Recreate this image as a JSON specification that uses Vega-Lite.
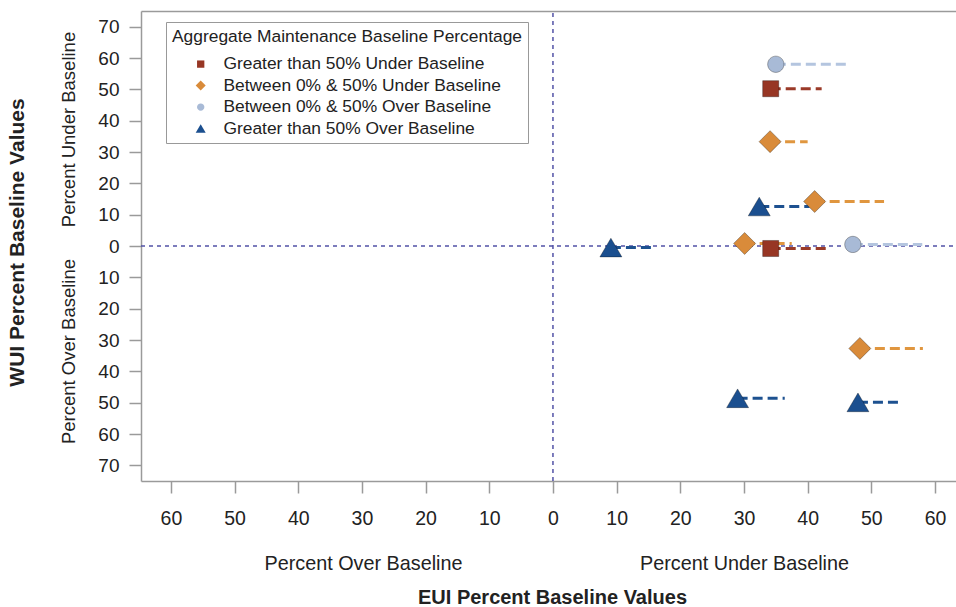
{
  "$schema": "https://vega.github.io/schema/vega-lite/v6.json",
  "width": 815,
  "height": 470,
  "autosize": {"type": "none"},
  "padding": {"left": 141, "top": 11, "right": 0, "bottom": 126},
  "background": "white",
  "config": {
    "view": {"stroke": null},
    "font": "Liberation Sans",
    "axis": {"grid": false, "domainColor": "#9a9a9a", "tickColor": "#9a9a9a", "labelColor": "#222", "titleColor": "#222", "labelFont": "Liberation Sans", "titleFont": "Liberation Sans", "domainWidth": 1.5, "tickWidth": 1.5}
  },
  "datasets": {
    "pts": [
      {"category": "Between 0% & 50% Over Baseline", "eui": 35.0, "wui": 58.0, "eui_end": 46.0},
      {"category": "Greater than 50% Under Baseline", "eui": 34.2, "wui": 50.2, "eui_end": 42.2},
      {"category": "Between 0% & 50% Under Baseline", "eui": 34.1, "wui": 33.3, "eui_end": 40.0},
      {"category": "Greater than 50% Over Baseline", "eui": 32.4, "wui": 12.6, "eui_end": 40.3},
      {"category": "Between 0% & 50% Under Baseline", "eui": 41.1, "wui": 14.2, "eui_end": 52.0},
      {"category": "Greater than 50% Over Baseline", "eui": 9.1, "wui": -0.5, "eui_end": 15.7},
      {"category": "Between 0% & 50% Under Baseline", "eui": 30.1, "wui": 0.8, "eui_end": 37.5},
      {"category": "Greater than 50% Under Baseline", "eui": 34.2, "wui": -0.8, "eui_end": 43.6},
      {"category": "Between 0% & 50% Over Baseline", "eui": 47.1, "wui": 0.5, "eui_end": 58.0},
      {"category": "Between 0% & 50% Under Baseline", "eui": 48.2, "wui": -32.7, "eui_end": 58.1},
      {"category": "Greater than 50% Over Baseline", "eui": 29.0, "wui": -48.6, "eui_end": 36.4},
      {"category": "Greater than 50% Over Baseline", "eui": 47.9, "wui": -49.9, "eui_end": 54.8}
    ]
  },
  "resolve": {"axis": {"x": "independent", "y": "independent"}},
  "layer": [
    {
      "data": {"values": [{"x": 0, "y": -75, "y2": 75}]},
      "mark": {"type": "rule", "color": "#5252a6", "strokeDash": [4, 4], "strokeWidth": 1.5},
      "encoding": {
        "x": {"field": "x", "type": "quantitative", "scale": {"domain": [-64.7, 63.3], "nice": false, "zero": false},
          "axis": {"orient": "bottom", "values": [-60, -50, -40, -30, -20, -10, 0, 10, 20, 30, 40, 50, 60], "labelExpr": "format(abs(datum.value), 'd')", "tickSize": 12, "labelPadding": 16, "labelFontSize": 19.5, "labelFlush": false, "labelOverlap": false,
            "title": "Percent Over Baseline", "titleFontSize": 19.8, "titleFontWeight": "normal", "titleX": 222, "titleY": 82, "titleAlign": "center", "titleBaseline": "middle"}},
        "y": {"field": "y", "type": "quantitative", "scale": {"domain": [-75, 75], "nice": false, "zero": false},
          "axis": {"orient": "left", "labels": false, "ticks": false, "domain": false, "title": "Percent Under Baseline", "titleFontSize": 18.5, "titleFontWeight": "normal", "titleX": -73, "titleY": 118, "titleAngle": 270, "titleAlign": "center", "titleBaseline": "middle"}},
        "y2": {"field": "y2"}
      }
    },
    {
      "data": {"values": [{"y": 0, "x": -64.7, "x2": 63.3}]},
      "mark": {"type": "rule", "color": "#5252a6", "strokeDash": [4, 4], "strokeWidth": 1.5},
      "encoding": {
        "y": {"field": "y", "type": "quantitative", "scale": {"domain": [-75, 75], "nice": false, "zero": false},
          "axis": {"orient": "left", "values": [-70, -60, -50, -40, -30, -20, -10, 0, 10, 20, 30, 40, 50, 60, 70], "labelExpr": "format(abs(datum.value), 'd')", "tickSize": 12, "labelPadding": 10, "labelFontSize": 19, "labelFlush": false, "labelOverlap": false,
            "title": "Percent Over Baseline", "titleFontSize": 18.5, "titleFontWeight": "normal", "titleX": -73, "titleY": 340, "titleAngle": 270, "titleAlign": "center", "titleBaseline": "middle"}},
        "x": {"field": "x", "type": "quantitative", "scale": {"domain": [-64.7, 63.3], "nice": false, "zero": false},
          "axis": {"orient": "bottom", "labels": false, "ticks": false, "domain": false, "title": "Percent Under Baseline", "titleFontSize": 19.8, "titleFontWeight": "normal", "titleX": 603, "titleY": 82, "titleAlign": "center", "titleBaseline": "middle"}},
        "x2": {"field": "x2"}
      }
    },
    {
      "data": {"name": "pts"},
      "mark": {"type": "rule", "strokeDash": [10, 5], "strokeWidth": 3},
      "encoding": {
        "x": {"field": "eui", "type": "quantitative", "scale": {"domain": [-64.7, 63.3], "nice": false, "zero": false},
          "axis": {"orient": "bottom", "labels": false, "ticks": false, "domain": false, "title": "EUI Percent Baseline Values", "titleFontSize": 20, "titleFontWeight": "bold", "titleX": 411, "titleY": 116, "titleAlign": "center", "titleBaseline": "middle"}},
        "x2": {"field": "eui_end"},
        "y": {"field": "wui", "type": "quantitative", "scale": {"domain": [-75, 75], "nice": false, "zero": false},
          "axis": {"orient": "left", "labels": false, "ticks": false, "domain": false, "title": "WUI Percent Baseline Values", "titleFontSize": 21, "titleFontWeight": "bold", "titleX": -124, "titleY": 231, "titleAngle": 270, "titleAlign": "center", "titleBaseline": "middle"}},
        "color": {"field": "category", "type": "nominal", "legend": null,
          "scale": {"domain": ["Greater than 50% Over Baseline", "Between 0% & 50% Over Baseline", "Between 0% & 50% Under Baseline", "Greater than 50% Under Baseline"], "range": ["#1d5190", "#b4c5df", "#e0963f", "#9a3a28"]}}
      }
    },
    {
      "data": {"name": "pts"},
      "mark": {"type": "point", "filled": true, "opacity": 1, "size": 484, "stroke": "#000", "strokeOpacity": 0.3, "strokeWidth": 1},
      "encoding": {
        "x": {"field": "eui", "type": "quantitative", "scale": {"domain": [-64.7, 63.3], "nice": false, "zero": false},
          "axis": {"orient": "top", "labels": false, "ticks": false, "domain": true, "title": null}},
        "y": {"field": "wui", "type": "quantitative", "scale": {"domain": [-75, 75], "nice": false, "zero": false}, "axis": null},
        "fill": {"field": "category", "type": "nominal",
          "scale": {"domain": ["Greater than 50% Under Baseline", "Between 0% & 50% Under Baseline", "Between 0% & 50% Over Baseline", "Greater than 50% Over Baseline"], "range": ["#973624", "#d98b3a", "#a8bad6", "#1b4f8f"]},
          "legend": {"orient": "none", "legendX": 25, "legendY": 11, "title": "Aggregate Maintenance Baseline Percentage", "titleFontSize": 17.4, "titleFontWeight": "normal", "titleFont": "Liberation Sans", "titleColor": "#222", "labelFontSize": 17.4, "labelFont": "Liberation Sans", "labelColor": "#222", "symbolSize": 100, "symbolStrokeWidth": 0, "strokeColor": "#999", "fillColor": "white", "padding": 6, "symbolOffset": 20, "labelOffset": 14, "rowPadding": 2.5, "titlePadding": 10, "titleLimit": 0, "labelLimit": 0}},
        "shape": {"field": "category", "type": "nominal",
          "scale": {"domain": ["Greater than 50% Under Baseline", "Between 0% & 50% Under Baseline", "Between 0% & 50% Over Baseline", "Greater than 50% Over Baseline"], "range": ["M-0.73,-0.73H0.73V0.73H-0.73Z", "M-1,0L0,-1L1,0L0,1Z", "M-0.74,0A0.74,0.74,0,1,0,0.74,0A0.74,0.74,0,1,0,-0.74,0Z", "M0,-0.85L1,0.85L-1,0.85Z"]},
          "legend": {"orient": "none", "legendX": 25, "legendY": 11, "title": "Aggregate Maintenance Baseline Percentage", "titleFontSize": 17.4, "titleFontWeight": "normal", "titleFont": "Liberation Sans", "titleColor": "#222", "labelFontSize": 17.4, "labelFont": "Liberation Sans", "labelColor": "#222", "symbolSize": 100, "symbolStrokeWidth": 0, "strokeColor": "#999", "fillColor": "white", "padding": 6, "symbolOffset": 20, "labelOffset": 14, "rowPadding": 2.5, "titlePadding": 10, "titleLimit": 0, "labelLimit": 0}}
      }
    }
  ]
}
